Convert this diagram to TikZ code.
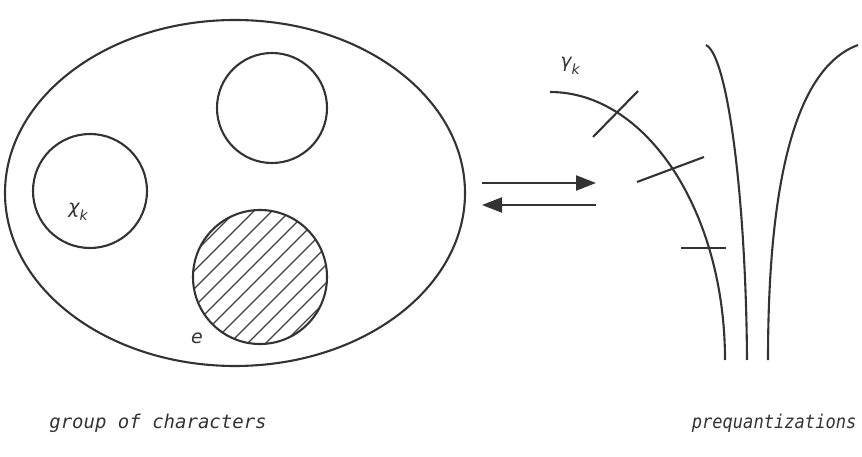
\documentclass[tikz,border=0pt]{standalone}
\usepackage{fontspec}
\setmonofont{DejaVu Sans Mono}
\newfontfamily\symfont{DejaVu Sans}
\usepackage{tikz}
\usetikzlibrary{arrows.meta, positioning}

\newcommand{\symsub}[2]{#1\raisebox{-0.4em}{\fontsize{14}{16}\selectfont #2}}

\begin{document}
\begin{tikzpicture}[
    x=1pt, y=-1pt,
    curve/.style={line width=2.1pt, draw=black!80},
    tick/.style={line width=2.1pt, draw=black!80},
    hatch/.style={line width=1.4pt, draw=black!75},
    arr/.style={-{Triangle[length=20pt, width=15pt]}, line width=2.3pt, draw=black!80, fill=black!80},
    caption/.style={font=\ttfamily\itshape\fontsize{19}{22}\selectfont, text=black!80},
    sym/.style={font=\symfont\itshape\fontsize{19}{22}\selectfont, text=black!80},
]
  \useasboundingbox (0,0) rectangle (862,457);

  % group of characters
  \draw[curve] (235,193) ellipse [x radius=230, y radius=173];
  \draw[curve] (272,108) circle [radius=55];
  \draw[curve] (90,191) circle [radius=57];
  \begin{scope}
    \clip (260,277) circle [radius=67];
    \foreach \d in {-90,-72,...,90}
      \draw[hatch] (260+\d-100,377) -- (260+\d+100,177);
  \end{scope}
  \draw[curve] (260,277) circle [radius=67];
  \node[sym] (chi) at (78,212) {\symsub{χ}{k}};
  \node[sym] (e)   at (197,338) {e};

  % arrows between the two sides
  \coordinate (a1) at (482,183);
  \coordinate (b1) at (596,183);
  \coordinate (a2) at (482,205);
  \coordinate (b2) at (596,205);
  \draw[arr] (a1) -- (b1);
  \draw[arr] (b2) -- (a2);

  % prequantizations
  \draw[curve] (550,92) arc [start angle=-90, end angle=0, x radius=175, y radius=268];
  \draw[tick] (593,137) -- (638,91);
  \draw[tick] (637,182) -- (704,157);
  \draw[tick] (681,248) -- (726,248);
  \draw[curve] (706,45) .. controls (728,56) and (746,200) .. (747,360);
  \draw[curve] (858,45) .. controls (790,70) and (768,200) .. (768,360);
  \node[sym] (gamma) at (570,66) {\symsub{γ}{k}};

  \node[caption] (left) at (158,423) {group of characters};
  \node[caption, anchor=east] (right) at (860,423) {\scalebox{0.9}[1]{prequantizations}};
\end{tikzpicture}
\end{document}
